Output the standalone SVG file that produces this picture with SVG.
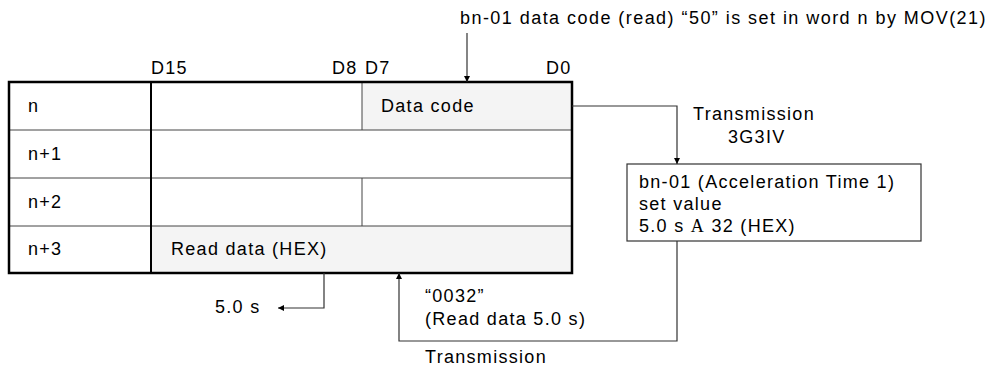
<svg xmlns="http://www.w3.org/2000/svg" width="992" height="366" viewBox="0 0 992 366">
<defs>
<marker id="ah" viewBox="0 0 10 10" refX="10" refY="5" markerWidth="10" markerHeight="6" markerUnits="userSpaceOnUse" orient="auto">
<path d="M0,0 L10,5 L0,10 z" fill="#000"/>
</marker>
<style>
text{font-family:"Liberation Sans",Arial,sans-serif;font-size:18px;letter-spacing:1.3px;fill:#000}
.wide{letter-spacing:1.45px}
.thin{stroke:#444;stroke-width:1;fill:none}
.conn{stroke:#333;stroke-width:1.2;fill:none}
.shade{fill:#f4f4f4}
.ser{font-family:"Liberation Serif","Times New Roman",serif}
</style>
</defs>
<rect width="992" height="366" fill="#fff"/>
<g id="table">
<rect class="shade" x="362" y="82" width="210" height="48"/>
<rect class="shade" x="151" y="226" width="421" height="47"/>
<line class="thin" x1="9" y1="130" x2="572" y2="130"/>
<line class="thin" x1="9" y1="178" x2="572" y2="178"/>
<line class="thin" x1="9" y1="226" x2="572" y2="226"/>
<line class="thin" x1="362" y1="82" x2="362" y2="130"/>
<line class="thin" x1="362" y1="178" x2="362" y2="226"/>
<line x1="151" y1="82" x2="151" y2="273" stroke="#000" stroke-width="2"/>
<rect x="9" y="82" width="563" height="191" fill="none" stroke="#000" stroke-width="2.5"/>
<text x="151" y="74">D15</text>
<text x="332" y="74">D8</text>
<text x="365" y="74">D7</text>
<text x="546" y="74">D0</text>
<text x="28" y="112">n</text>
<text x="28" y="160">n+1</text>
<text x="28" y="208">n+2</text>
<text x="28" y="255">n+3</text>
<text x="381" y="112">Data code</text>
<text x="171" y="255">Read data (HEX)</text>
</g>
<g id="inverter">
<rect x="627" y="164" width="294" height="77" fill="#fff" stroke="#333" stroke-width="1.2"/>
<text x="639" y="188">bn-01 (Acceleration Time 1)</text>
<text x="639" y="210">set value</text>
<text x="639" y="232">5.0 s <tspan class="ser">Α</tspan> 32 (HEX)</text>
</g>
<g id="labels">
<text class="wide" x="460" y="24">bn-01 data code (read) “50” is set in word n by MOV(21)</text>
<text x="693" y="120">Transmission</text>
<text x="728" y="143">3G3IV</text>
<text x="425" y="302">“0032”</text>
<text x="425" y="325">(Read data 5.0 s)</text>
<text x="425" y="363">Transmission</text>
<text x="215" y="313">5.0 s</text>
</g>
<g id="connectors">
<path class="conn" d="M467,33 V82" marker-end="url(#ah)"/>
<path class="conn" d="M572,106 H677 V164" marker-end="url(#ah)"/>
<path class="conn" d="M677,241 V341 H399 V273" marker-end="url(#ah)"/>
<path class="conn" d="M324,273 V308 H278" marker-end="url(#ah)"/>
</g>
</svg>
